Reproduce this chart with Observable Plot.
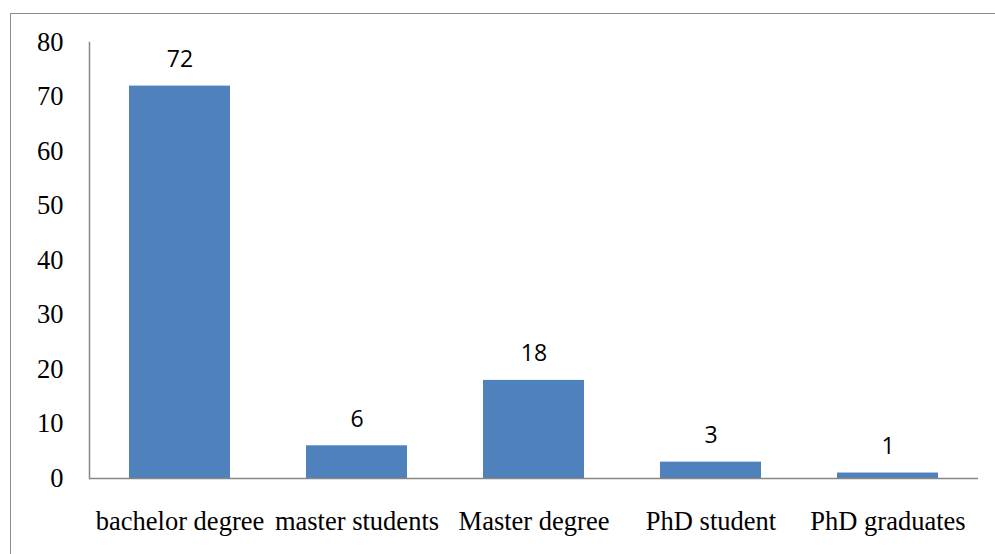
<!DOCTYPE html>
<html>
<head>
<meta charset="utf-8">
<script src="https://cdn.jsdelivr.net/npm/d3@7"></script>
<script src="https://cdn.jsdelivr.net/npm/@observablehq/plot@0.6"></script>
<style>
  html, body { margin: 0; padding: 0; background: #fff; overflow: hidden; }
  #wrap { position: relative; width: 995px; height: 554px; }
  #border { position: absolute; left: 10px; top: 13px; width: 1100px; height: 700px;
            border-left: 1.5px solid #8c8c8c; border-top: 1.5px solid #8c8c8c; }
  #chart { position: absolute; left: 0; top: 0; }
  #chart svg g[aria-label="x-axis tick label"] text,
  #chart svg g[aria-label="y-axis tick label"] text,
  #chart svg g[aria-label="x-axis tick label"],
  #chart svg g[aria-label="y-axis tick label"] {
    font-family: "Liberation Serif", "Times New Roman", Times, "DejaVu Serif", serif !important;
  }
</style>
</head>
<body>
<div id="wrap"><div id="border"></div><div id="chart"></div></div>
<script>
const categories = ["bachelor degree", "master students", "Master degree", "PhD student", "PhD graduates"];
const counts = [72, 6, 18, 3, 1];
const yTicks = [0, 10, 20, 30, 40, 50, 60, 70, 80];

const data = categories.map((c, i) => ({category: c, count: counts[i]}));

const chart = Plot.plot({
  width: 995,
  height: 554,
  marginLeft: 89,
  marginRight: 17,
  marginTop: 42,
  marginBottom: 76,
  style: {fontSize: "26.5px", color: "#000", background: "transparent"},
  x: {domain: categories, paddingInner: 0.43, paddingOuter: 0.215, label: null},
  y: {domain: [0, 80], label: null},
  marks: [
    Plot.barY(data, {x: "category", y: "count", fill: "#4F81BD"}),
    Plot.text(data, {x: "category", y: "count", text: d => String(d.count), lineAnchor: "bottom", dy: -19,
      fontFamily: "Open Sans", fontSize: 23, fill: "#000"}),
    Plot.ruleY([0], {stroke: "#868686", strokeWidth: 1.5}),
    Plot.frame({anchor: "left", stroke: "#868686", strokeWidth: 1.5}),
    Plot.axisY({ticks: yTicks, tickSize: 0, tickPadding: 26, tickFormat: d => String(d), label: null,
      fontSize: 26.5, fill: "#000"}),
    Plot.axisX({tickSize: 0, tickPadding: 33, label: null, fontSize: 26.5, fill: "#000"})
  ]
});
document.getElementById("chart").appendChild(chart);
</script>
</body>
</html>
